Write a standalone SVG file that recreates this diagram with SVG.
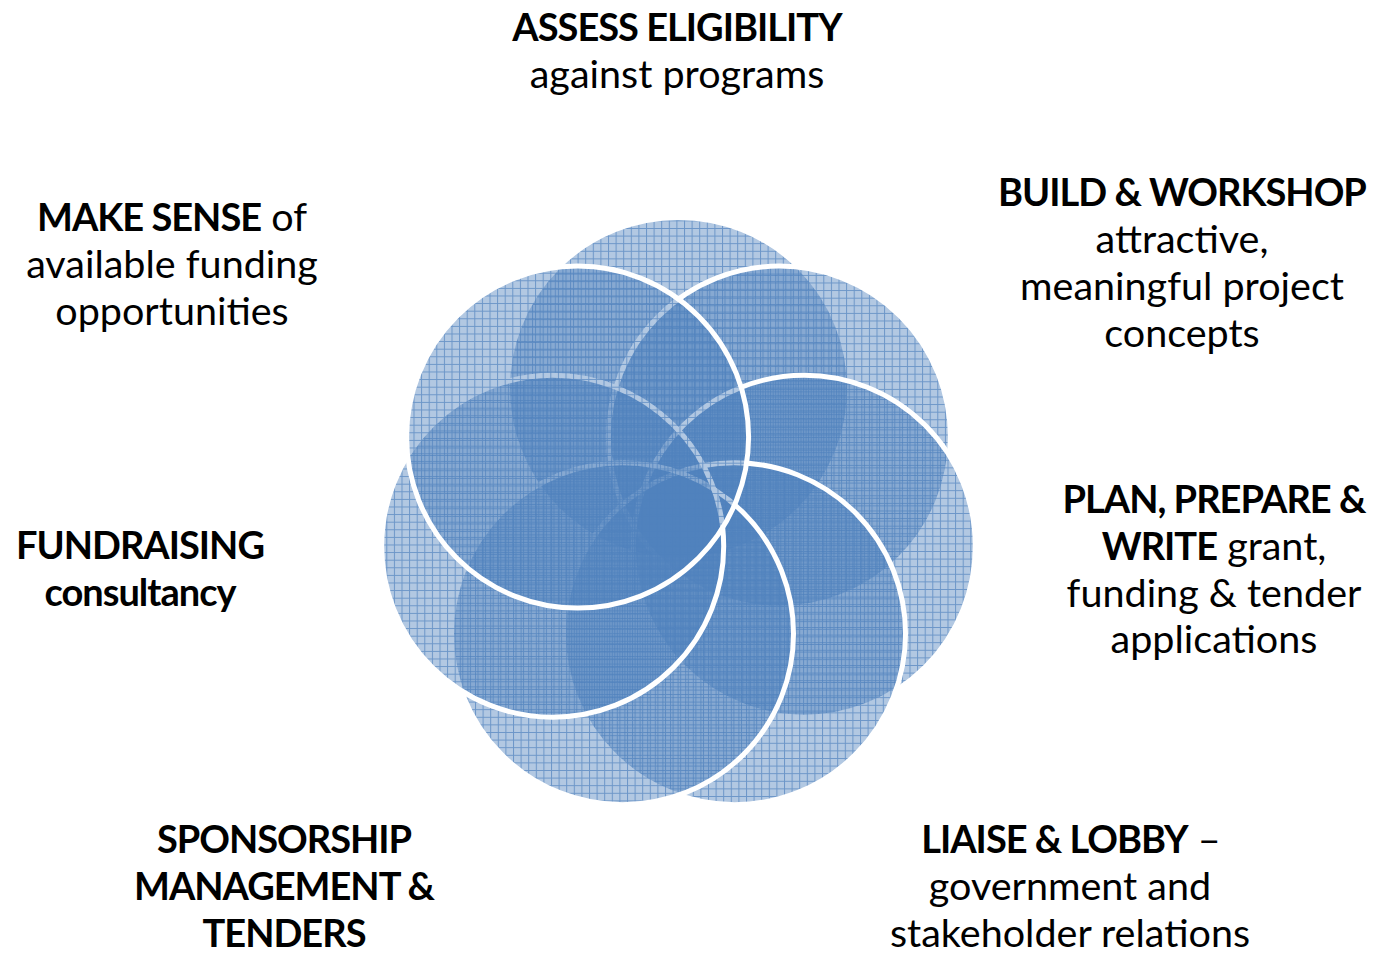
<svg xmlns="http://www.w3.org/2000/svg" width="1375" height="956" viewBox="0 0 1375 956">
  <style>
    .petal { stroke: #ffffff; stroke-width: 5; }
    .lbl { font-family: Lato, "Open Sans", "Liberation Sans", sans-serif; font-size: 39.5px; fill: #000000; text-anchor: middle; }
    .b { font-weight: bold; font-size: 38px; letter-spacing: -1px; }
  </style>
  <defs>
    <pattern id="grid" patternUnits="userSpaceOnUse" width="7.6" height="7.6">
      <rect width="7.6" height="7.6" fill="#4f81bd" fill-opacity="0.44"/>
      <path d="M0 0.5H7.6M0.5 0V7.6" stroke="#4f81bd" stroke-width="1" stroke-opacity="0.7" fill="none"/>
    </pattern>
    <pattern id="g1" href="#grid" x="0" y="0"/>
    <pattern id="g2" href="#grid" x="2.5" y="1.3"/>
    <pattern id="g3" href="#grid" x="5.1" y="3.8"/>
    <pattern id="g4" href="#grid" x="1.2" y="5.6"/>
    <pattern id="g5" href="#grid" x="3.8" y="2.4"/>
    <pattern id="g6" href="#grid" x="6.3" y="4.9"/>
    <pattern id="g7" href="#grid" x="3.1" y="6.7"/>
  </defs>

  <g id="connectors"/>

  <g id="node-assess">
    <circle class="petal" cx="678.5" cy="388.5" r="171" fill="url(#g1)" stroke="none"/>
    <text class="lbl" x="677" y="41"><tspan class="b">ASSESS ELIGIBILITY</tspan></text>
    <text class="lbl" x="677" y="88">against programs</text>
  </g>

  <g id="node-build">
    <circle class="petal" cx="779.4" cy="437.1" r="171" fill="url(#g2)"/>
    <text class="lbl" x="1182" y="206"><tspan class="b">BUILD &amp; WORKSHOP</tspan></text>
    <text class="lbl" x="1182" y="253">attractive,</text>
    <text class="lbl" x="1182" y="300">meaningful project</text>
    <text class="lbl" x="1182" y="347">concepts</text>
  </g>

  <g id="node-plan">
    <circle class="petal" cx="804.3" cy="546.2" r="171" fill="url(#g3)"/>
    <text class="lbl" x="1214" y="513"><tspan class="b">PLAN, PREPARE &amp;</tspan></text>
    <text class="lbl" x="1214" y="560"><tspan class="b">WRITE</tspan> grant,</text>
    <text class="lbl" x="1214" y="607">funding &amp; tender</text>
    <text class="lbl" x="1214" y="653">applications</text>
  </g>

  <g id="node-liaise">
    <circle class="petal" cx="734.5" cy="633.7" r="171" fill="url(#g4)"/>
    <text class="lbl" x="1071" y="853"><tspan class="b">LIAISE &amp; LOBBY</tspan> –</text>
    <text class="lbl" x="1070" y="900">government and</text>
    <text class="lbl" x="1070" y="947">stakeholder relations</text>
  </g>

  <g id="node-sponsorship">
    <circle class="petal" cx="622.5" cy="633.7" r="171" fill="url(#g5)"/>
    <text class="lbl b" x="284" y="853">SPONSORSHIP</text>
    <text class="lbl b" x="284" y="900">MANAGEMENT &amp;</text>
    <text class="lbl b" x="284" y="947">TENDERS</text>
  </g>

  <g id="node-fundraising">
    <circle class="petal" cx="552.7" cy="546.2" r="171" fill="url(#g6)"/>
    <text class="lbl b" x="140" y="559">FUNDRAISING</text>
    <text class="lbl b" x="140" y="606">consultancy</text>
  </g>

  <g id="node-makesense">
    <circle class="petal" cx="577.6" cy="437.1" r="171" fill="url(#g7)"/>
    <text class="lbl" x="172" y="231"><tspan class="b">MAKE SENSE</tspan> of</text>
    <text class="lbl" x="172" y="278">available funding</text>
    <text class="lbl" x="172" y="325">opportunities</text>
  </g>
</svg>
